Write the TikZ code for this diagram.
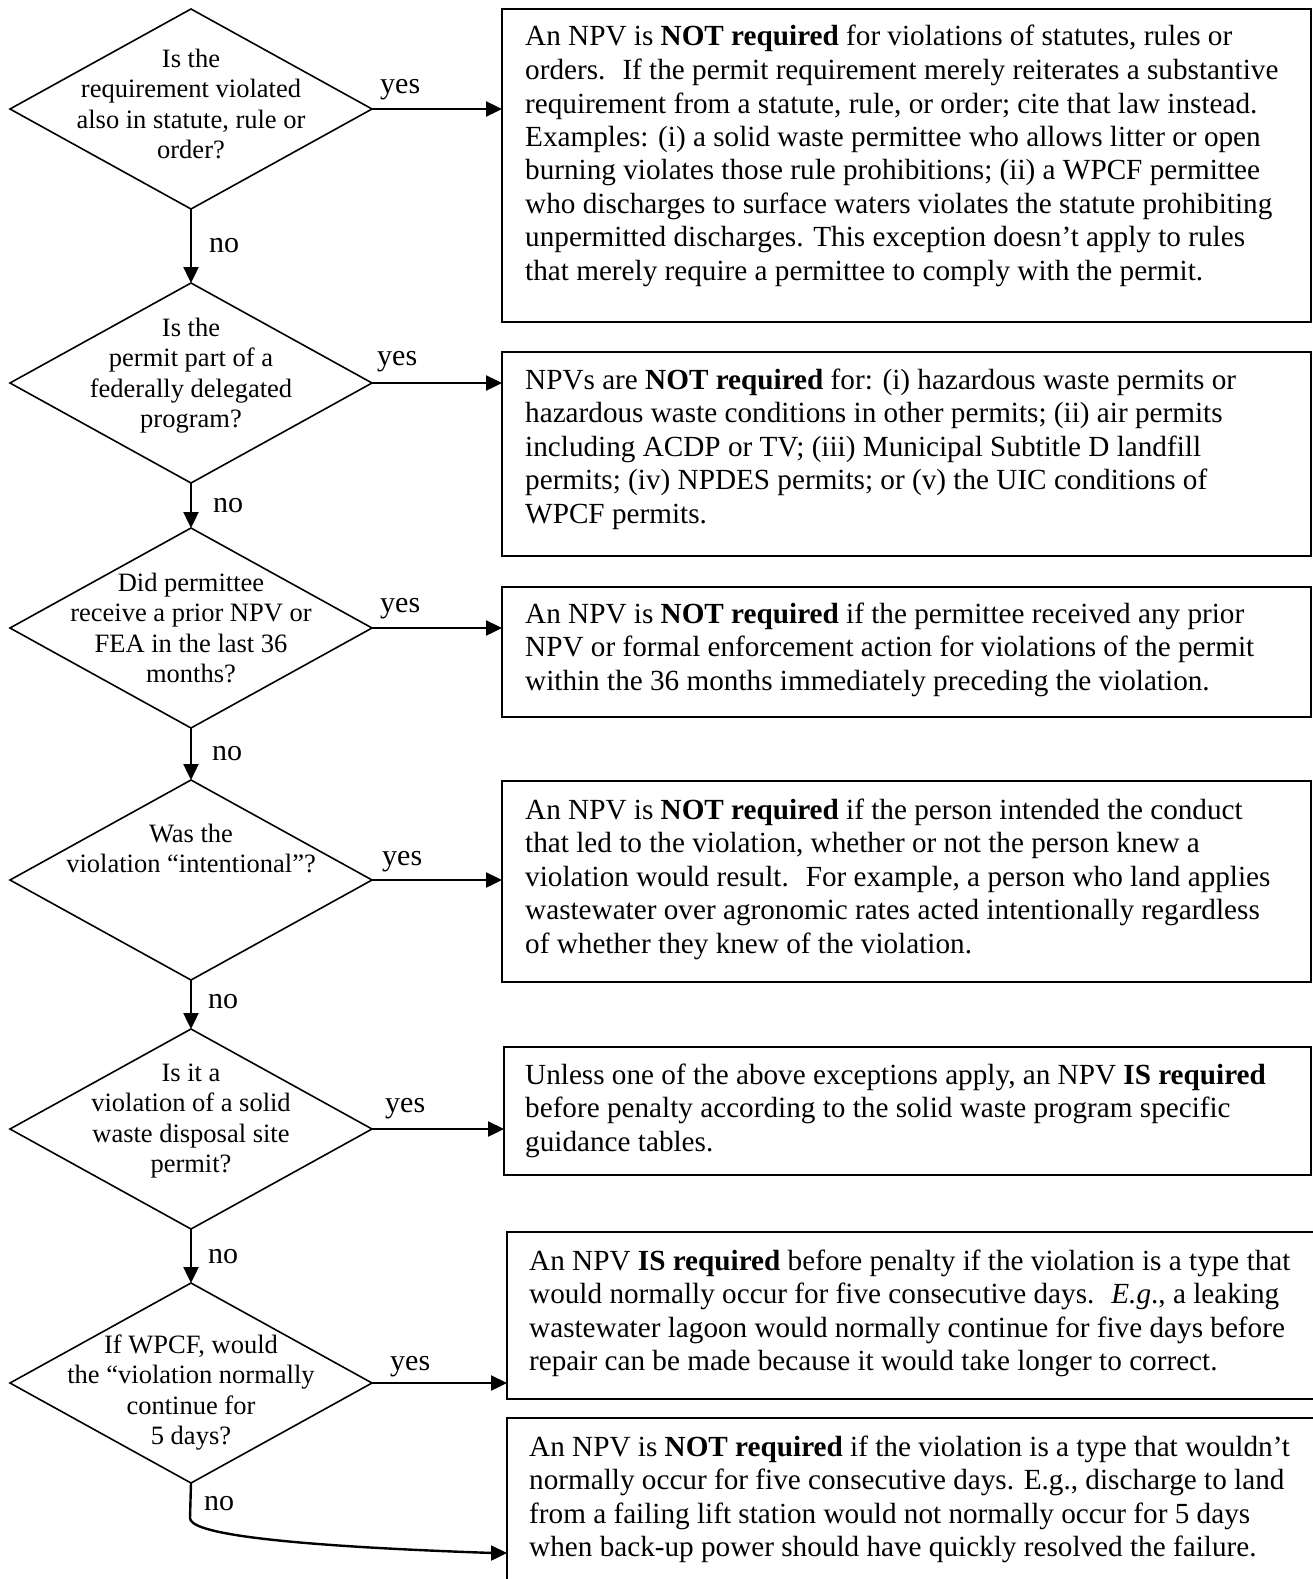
\documentclass[tikz,border=0pt]{standalone}
\usepackage{fontspec}
\setmainfont{Liberation Serif}
\usetikzlibrary{shapes.geometric,arrows.meta}
\newcommand{\boxtxt}[1]{\parbox[t]{800pt}{\fontsize{29.2pt}{33.5pt}\selectfont\raggedright #1}}
\newcommand{\dtxt}[1]{\parbox[t]{340pt}{\fontsize{26.5pt}{30.6pt}\selectfont\centering #1}}
\tikzset{
  dec/.style={diamond, draw, line width=1.6pt, minimum width=362pt, minimum height=200pt, inner sep=0pt, outer sep=0pt},
  rbox/.style={draw, line width=2pt, anchor=north west, inner sep=0pt, outer sep=0pt},
  arr/.style={line width=2.4pt, -{Triangle[length=16pt,width=15pt]}},
  boxtext/.style={anchor=base west, inner sep=0pt},
  dtext/.style={anchor=base, inner sep=0pt},
  lbl/.style={anchor=base west, inner sep=0pt, font=\fontsize{30pt}{34pt}\selectfont},
}
\begin{document}
\begin{tikzpicture}[x=1pt,y=-1pt]
\useasboundingbox[fill=white] (0,0) rectangle (1313,1579);
\clip (0,0) rectangle (1313,1579);

% decision diamonds
\node[dec] (d1) at (191,109) {};
\node[dec] (d2) at (191,383) {};
\node[dec] (d3) at (191,628) {};
\node[dec] (d4) at (191,880) {};
\node[dec] (d5) at (191,1129) {};
\node[dec] (d6) at (191,1383) {};

\node[dtext] (q1) at (191,67) {\dtxt{Is the\\requirement violated\\also in statute, rule or\\order?}};
\node[dtext] (q2) at (191,336) {\dtxt{Is the\\permit part of a\\federally delegated\\program?}};
\node[dtext] (q3) at (191,591) {\dtxt{Did permittee\\receive a prior NPV or\\FEA in the last 36\\months?}};
\node[dtext] (q4) at (191,842) {\dtxt{Was the\\violation “intentional”?}};
\node[dtext] (q5) at (191,1081) {\dtxt{Is it a\\violation of a solid\\waste disposal site\\permit?}};
\node[dtext] (q6) at (191,1353) {\dtxt{If WPCF, would\\the “violation normally\\continue for\\5 days?}};

% outcome boxes
\node[rbox, minimum width=809pt, minimum height=313pt] (b1) at (502,9) {};
\node[rbox, minimum width=809pt, minimum height=204pt] (b2) at (502,352) {};
\node[rbox, minimum width=809pt, minimum height=130pt] (b3) at (502,587) {};
\node[rbox, minimum width=809pt, minimum height=201pt] (b4) at (502,781) {};
\node[rbox, minimum width=807pt, minimum height=128pt] (b5) at (504,1047) {};
\node[rbox, minimum width=820pt, minimum height=167pt] (b6) at (507,1232) {};
\node[rbox, minimum width=820pt, minimum height=190pt] (b7) at (507,1418) {};

\node[boxtext] (t1) at (525,46) {\boxtxt{An NPV is \textbf{NOT required} for violations of statutes, rules or\\
orders.~ If the permit requirement merely reiterates a substantive\\
requirement from a statute, rule, or order; cite that law instead.\\
Examples: (i) a solid waste permittee who allows litter or open\\
burning violates those rule prohibitions; (ii) a WPCF permittee\\
who discharges to surface waters violates the statute prohibiting\\
unpermitted discharges. This exception doesn’t apply to rules\\
that merely require a permittee to comply with the permit.}};

\node[boxtext] (t2) at (525,389) {\boxtxt{NPVs are \textbf{NOT required} for: (i) hazardous waste permits or\\
hazardous waste conditions in other permits; (ii) air permits\\
including ACDP or TV; (iii) Municipal Subtitle D landfill\\
permits; (iv) NPDES permits; or (v) the UIC conditions of\\
WPCF permits.}};

\node[boxtext] (t3) at (525,623) {\boxtxt{An NPV is \textbf{NOT required} if the permittee received any prior\\
NPV or formal enforcement action for violations of the permit\\
within the 36 months immediately preceding the violation.}};

\node[boxtext] (t4) at (525,819) {\boxtxt{An NPV is \textbf{NOT required} if the person intended the conduct\\
that led to the violation, whether or not the person knew a\\
violation would result.~ For example, a person who land applies\\
wastewater over agronomic rates acted intentionally regardless\\
of whether they knew of the violation.}};

\node[boxtext] (t5) at (525,1084) {\boxtxt{Unless one of the above exceptions apply, an NPV \textbf{IS required}\\
before penalty according to the solid waste program specific\\
guidance tables.}};

\node[boxtext] (t6) at (529,1270) {\boxtxt{An NPV \textbf{IS required} before penalty if the violation is a type that\\
would normally occur for five consecutive days.~ \textit{E.g}., a leaking\\
wastewater lagoon would normally continue for five days before\\
repair can be made because it would take longer to correct.}};

\node[boxtext] (t7) at (529,1456) {\boxtxt{An NPV is \textbf{NOT required} if the violation is a type that wouldn’t\\
normally occur for five consecutive days. E.g., discharge to land\\
from a failing lift station would not normally occur for 5 days\\
when back-up power should have quickly resolved the failure.}};

% yes connectors
\draw[arr] (d1.east) -- (d1.east -| b1.west);
\draw[arr] (d2.east) -- (d2.east -| b2.west);
\draw[arr] (d3.east) -- (d3.east -| b3.west);
\draw[arr] (d4.east) -- (d4.east -| b4.west);
\draw[arr] (d5.east) -- (d5.east -| b5.west);
\draw[arr] (d6.east) -- (d6.east -| b6.west);

% no connectors
\draw[arr] (d1.south) -- (d2.north);
\draw[arr] (d2.south) -- (d3.north);
\draw[arr] (d3.south) -- (d4.north);
\draw[arr] (d4.south) -- (d5.north);
\draw[arr] (d5.south) -- (d6.north);
\path (b7.north west) ++(0,135) coordinate (n7);
\draw[arr] (d6.south) -- ++(-1,35) .. controls ++(0,14) and (262,1545) .. (493,1553) -- (n7);

% labels
\node[lbl] (y1) at (380,93) {yes};
\node[lbl] (y2) at (377,365) {yes};
\node[lbl] (y3) at (380,612) {yes};
\node[lbl] (y4) at (382,865) {yes};
\node[lbl] (y5) at (385,1112) {yes};
\node[lbl] (y6) at (390,1370) {yes};
\node[lbl] (n1) at (209,252) {no};
\node[lbl] (n2) at (213,512) {no};
\node[lbl] (n3) at (212,760) {no};
\node[lbl] (n4) at (208,1008) {no};
\node[lbl] (n5) at (208,1263) {no};
\node[lbl] (n6) at (204,1510) {no};
\end{tikzpicture}
\end{document}
